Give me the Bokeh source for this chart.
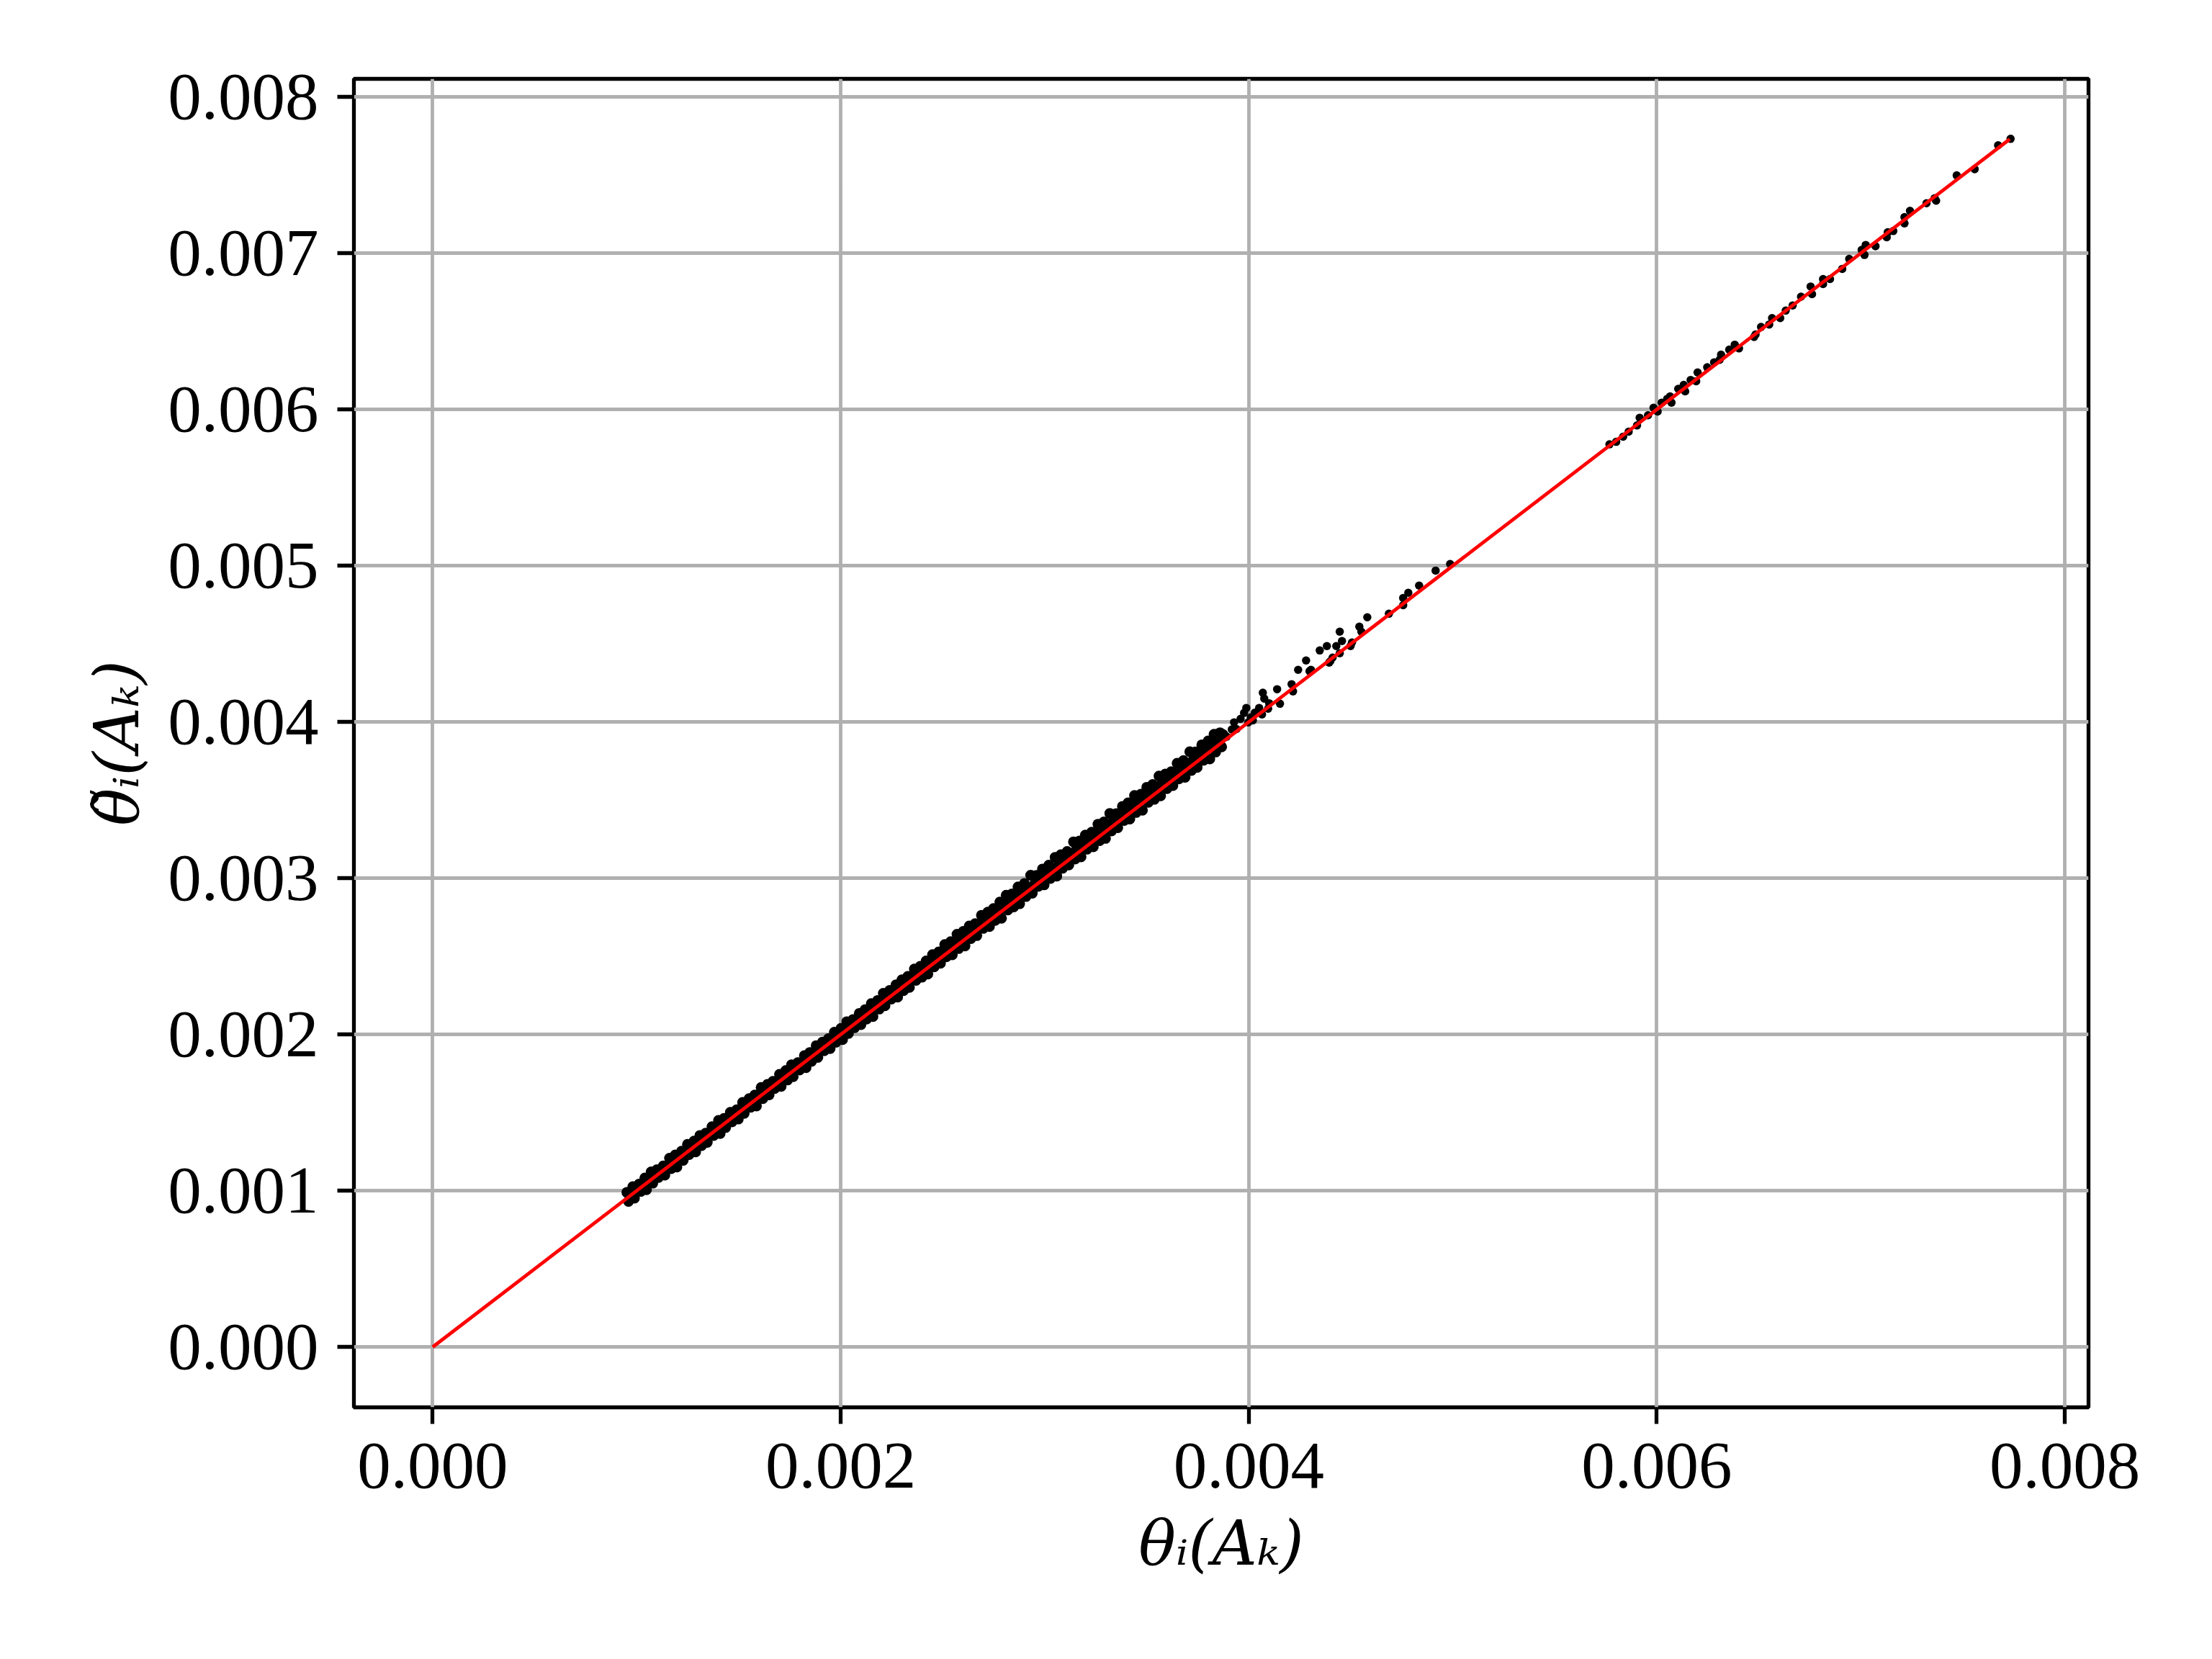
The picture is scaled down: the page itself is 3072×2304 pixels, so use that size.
from bokeh.plotting import figure
from bokeh.models import FixedTicker, PrintfTickFormatter, Range1d
from bokeh.embed import file_html
from bokeh.resources import INLINE

# ---- data ----
x_ticks = [0.000, 0.002, 0.004, 0.006, 0.008]
y_ticks = [0.000, 0.001, 0.002, 0.003, 0.004, 0.005, 0.006, 0.007, 0.008]

# dense band, upper edge
upper_x = [952e-6, 981e-6, 1012e-6, 1040e-6, 1071e-6, 1099e-6, 1130e-6, 1161e-6, 1189e-6, 1220e-6,
           1249e-6, 1281e-6, 1310e-6, 1338e-6, 1369e-6, 1401e-6, 1428e-6, 1459e-6, 1490e-6, 1519e-6,
           1551e-6, 1579e-6, 1610e-6, 1641e-6, 1668e-6, 1700e-6, 1731e-6, 1759e-6, 1790e-6, 1822e-6,
           1849e-6, 1880e-6, 1911e-6, 1940e-6, 1969e-6, 2001e-6, 2030e-6, 2060e-6, 2091e-6, 2119e-6,
           2150e-6, 2181e-6, 2209e-6, 2240e-6, 2271e-6, 2300e-6, 2329e-6, 2361e-6, 2390e-6, 2419e-6,
           2450e-6, 2481e-6, 2510e-6, 2539e-6, 2570e-6, 2601e-6, 2630e-6, 2659e-6, 2690e-6, 2721e-6,
           2749e-6, 2780e-6, 2811e-6, 2840e-6, 2869e-6, 2900e-6, 2931e-6, 2960e-6, 2989e-6, 3020e-6,
           3051e-6, 3079e-6, 3110e-6, 3141e-6, 3170e-6, 3199e-6, 3230e-6, 3261e-6, 3290e-6, 3319e-6,
           3350e-6, 3381e-6, 3409e-6, 3440e-6, 3471e-6, 3500e-6, 3529e-6, 3560e-6, 3591e-6, 3620e-6,
           3649e-6, 3680e-6, 3711e-6, 3739e-6, 3770e-6, 3801e-6, 3830e-6, 3859e-6]
upper_y = [990e-6, 1026e-6, 1043e-6, 1082e-6, 1121e-6, 1135e-6, 1159e-6, 1208e-6, 1229e-6, 1253e-6,
           1297e-6, 1318e-6, 1354e-6, 1368e-6, 1410e-6, 1450e-6, 1463e-6, 1502e-6, 1518e-6, 1565e-6,
           1590e-6, 1613e-6, 1661e-6, 1681e-6, 1700e-6, 1745e-6, 1769e-6, 1806e-6, 1820e-6, 1865e-6,
           1885e-6, 1929e-6, 1952e-6, 1973e-6, 2015e-6, 2039e-6, 2082e-6, 2095e-6, 2135e-6, 2159e-6,
           2198e-6, 2218e-6, 2264e-6, 2282e-6, 2318e-6, 2350e-6, 2372e-6, 2419e-6, 2436e-6, 2471e-6,
           2511e-6, 2529e-6, 2576e-6, 2594e-6, 2641e-6, 2660e-6, 2694e-6, 2709e-6, 2763e-6, 2783e-6,
           2806e-6, 2848e-6, 2891e-6, 2900e-6, 2944e-6, 2966e-6, 3019e-6, 3018e-6, 3059e-6, 3084e-6,
           3134e-6, 3151e-6, 3171e-6, 3233e-6, 3238e-6, 3276e-6, 3295e-6, 3346e-6, 3360e-6, 3415e-6,
           3413e-6, 3460e-6, 3483e-6, 3530e-6, 3538e-6, 3582e-6, 3600e-6, 3654e-6, 3667e-6, 3682e-6,
           3736e-6, 3753e-6, 3810e-6, 3808e-6, 3854e-6, 3879e-6, 3921e-6, 3931e-6]

# dense band, middle
mid_x = [967e-6, 996e-6, 1027e-6, 1055e-6, 1086e-6, 1114e-6, 1145e-6, 1176e-6, 1204e-6, 1235e-6,
         1264e-6, 1296e-6, 1325e-6, 1353e-6, 1384e-6, 1416e-6, 1443e-6, 1474e-6, 1505e-6, 1534e-6,
         1566e-6, 1594e-6, 1625e-6, 1656e-6, 1683e-6, 1715e-6, 1746e-6, 1774e-6, 1805e-6, 1837e-6,
         1864e-6, 1895e-6, 1926e-6, 1955e-6, 1984e-6, 2016e-6, 2045e-6, 2075e-6, 2106e-6, 2134e-6,
         2165e-6, 2196e-6, 2224e-6, 2255e-6, 2286e-6, 2315e-6, 2344e-6, 2376e-6, 2405e-6, 2434e-6,
         2465e-6, 2496e-6, 2525e-6, 2554e-6, 2585e-6, 2616e-6, 2645e-6, 2674e-6, 2705e-6, 2736e-6,
         2764e-6, 2795e-6, 2826e-6, 2855e-6, 2884e-6, 2915e-6, 2946e-6, 2975e-6, 3004e-6, 3035e-6,
         3066e-6, 3094e-6, 3125e-6, 3156e-6, 3185e-6, 3214e-6, 3245e-6, 3276e-6, 3305e-6, 3334e-6,
         3365e-6, 3396e-6, 3424e-6, 3455e-6, 3486e-6, 3515e-6, 3544e-6, 3575e-6, 3606e-6, 3635e-6,
         3664e-6, 3695e-6, 3726e-6, 3754e-6, 3785e-6, 3816e-6, 3845e-6, 3874e-6]
mid_y = [972e-6, 993e-6, 1035e-6, 1057e-6, 1080e-6, 1124e-6, 1145e-6, 1182e-6, 1200e-6, 1244e-6,
         1265e-6, 1289e-6, 1332e-6, 1356e-6, 1382e-6, 1427e-6, 1447e-6, 1469e-6, 1513e-6, 1534e-6,
         1572e-6, 1591e-6, 1637e-6, 1658e-6, 1677e-6, 1724e-6, 1750e-6, 1772e-6, 1812e-6, 1838e-6,
         1874e-6, 1891e-6, 1931e-6, 1963e-6, 1983e-6, 2022e-6, 2056e-6, 2077e-6, 2115e-6, 2131e-6,
         2172e-6, 2209e-6, 2228e-6, 2265e-6, 2287e-6, 2329e-6, 2350e-6, 2387e-6, 2408e-6, 2449e-6,
         2473e-6, 2514e-6, 2530e-6, 2568e-6, 2607e-6, 2625e-6, 2662e-6, 2699e-6, 2717e-6, 2756e-6,
         2772e-6, 2811e-6, 2853e-6, 2866e-6, 2903e-6, 2939e-6, 2956e-6, 2996e-6, 3019e-6, 3063e-6,
         3079e-6, 3116e-6, 3142e-6, 3186e-6, 3197e-6, 3239e-6, 3264e-6, 3309e-6, 3319e-6, 3360e-6,
         3386e-6, 3431e-6, 3440e-6, 3484e-6, 3509e-6, 3553e-6, 3562e-6, 3606e-6, 3632e-6, 3675e-6,
         3684e-6, 3729e-6, 3753e-6, 3797e-6, 3807e-6, 3853e-6, 3875e-6, 3919e-6]

# dense band, lower edge
lower_x = [960e-6, 989e-6, 1020e-6, 1048e-6, 1079e-6, 1107e-6, 1138e-6, 1169e-6, 1197e-6, 1228e-6,
           1257e-6, 1289e-6, 1318e-6, 1346e-6, 1377e-6, 1409e-6, 1436e-6, 1467e-6, 1498e-6, 1527e-6,
           1559e-6, 1587e-6, 1618e-6, 1649e-6, 1676e-6, 1708e-6, 1739e-6, 1767e-6, 1798e-6, 1830e-6,
           1857e-6, 1888e-6, 1919e-6, 1948e-6, 1977e-6, 2009e-6, 2038e-6, 2068e-6, 2099e-6, 2127e-6,
           2158e-6, 2189e-6, 2217e-6, 2248e-6, 2279e-6, 2308e-6, 2337e-6, 2369e-6, 2398e-6, 2427e-6,
           2458e-6, 2489e-6, 2518e-6, 2547e-6, 2578e-6, 2609e-6, 2638e-6, 2667e-6, 2698e-6, 2729e-6,
           2757e-6, 2788e-6, 2819e-6, 2848e-6, 2877e-6, 2908e-6, 2939e-6, 2968e-6, 2997e-6, 3028e-6,
           3059e-6, 3087e-6, 3118e-6, 3149e-6, 3178e-6, 3207e-6, 3238e-6, 3269e-6, 3298e-6, 3327e-6,
           3358e-6, 3389e-6, 3417e-6, 3448e-6, 3479e-6, 3508e-6, 3537e-6, 3568e-6, 3599e-6, 3628e-6,
           3657e-6, 3688e-6, 3719e-6, 3747e-6, 3778e-6, 3809e-6, 3838e-6, 3867e-6]
lower_y = [932e-6, 953e-6, 996e-6, 1007e-6, 1049e-6, 1085e-6, 1100e-6, 1142e-6, 1152e-6, 1195e-6,
           1232e-6, 1249e-6, 1289e-6, 1310e-6, 1354e-6, 1366e-6, 1405e-6, 1441e-6, 1459e-6, 1495e-6,
           1535e-6, 1543e-6, 1590e-6, 1614e-6, 1654e-6, 1668e-6, 1709e-6, 1730e-6, 1773e-6, 1788e-6,
           1828e-6, 1854e-6, 1896e-6, 1910e-6, 1950e-6, 1968e-6, 2007e-6, 2044e-6, 2063e-6, 2099e-6,
           2115e-6, 2163e-6, 2184e-6, 2227e-6, 2240e-6, 2281e-6, 2302e-6, 2347e-6, 2367e-6, 2387e-6,
           2433e-6, 2456e-6, 2498e-6, 2510e-6, 2550e-6, 2567e-6, 2614e-6, 2633e-6, 2679e-6, 2691e-6,
           2730e-6, 2744e-6, 2797e-6, 2817e-6, 2837e-6, 2883e-6, 2904e-6, 2948e-6, 2958e-6, 2999e-6,
           3014e-6, 3064e-6, 3085e-6, 3123e-6, 3137e-6, 3186e-6, 3202e-6, 3241e-6, 3255e-6, 3303e-6,
           3324e-6, 3370e-6, 3379e-6, 3421e-6, 3435e-6, 3486e-6, 3505e-6, 3528e-6, 3574e-6, 3593e-6,
           3636e-6, 3646e-6, 3690e-6, 3710e-6, 3755e-6, 3764e-6, 3808e-6, 3841e-6]

# sparse points between 0.0039 and 0.0050
sparse_x = [3860e-6, 3892e-6, 3917e-6, 3928e-6, 3940e-6, 3960e-6, 3977e-6, 3988e-6, 3998e-6, 4010e-6,
            4020e-6, 4030e-6, 4051e-6, 4065e-6, 4069e-6, 4076e-6, 4095e-6, 4100e-6, 4139e-6, 4153e-6,
            4210e-6, 4217e-6, 4242e-6, 4281e-6, 4298e-6, 4305e-6, 4348e-6, 4383e-6, 4394e-6, 4400e-6,
            4411e-6, 4429e-6, 4446e-6, 4446e-6, 4457e-6, 4499e-6, 4506e-6, 4542e-6, 4552e-6, 4581e-6,
            4687e-6, 4757e-6, 4757e-6, 4782e-6, 4835e-6, 4916e-6, 4987e-6]
sparse_y = [3880e-6, 3906e-6, 3952e-6, 3998e-6, 3955e-6, 4020e-6, 4058e-6, 4090e-6, 3998e-6, 4030e-6,
            4010e-6, 4060e-6, 4090e-6, 4048e-6, 4187e-6, 4150e-6, 4085e-6, 4120e-6, 4210e-6, 4117e-6,
            4242e-6, 4196e-6, 4334e-6, 4394e-6, 4325e-6, 4334e-6, 4458e-6, 4486e-6, 4380e-6, 4389e-6,
            4412e-6, 4486e-6, 4578e-6, 4440e-6, 4518e-6, 4486e-6, 4509e-6, 4610e-6, 4578e-6, 4670e-6,
            4693e-6, 4794e-6, 4748e-6, 4827e-6, 4873e-6, 4969e-6, 5011e-6]

# points between 0.0058 and 0.0077
high_x = [7734e-6, 7673e-6, 7558e-6, 7470e-6, 7362e-6, 7322e-6, 7369e-6, 7241e-6, 7214e-6, 7214e-6,
          7159e-6, 7132e-6, 7127e-6, 7072e-6, 7024e-6, 7004e-6, 7018e-6, 6943e-6, 6909e-6, 6849e-6,
          6815e-6, 6815e-6, 6754e-6, 6761e-6, 6707e-6, 6666e-6, 6632e-6, 6605e-6, 6565e-6, 6551e-6,
          6511e-6, 6484e-6, 6477e-6, 6403e-6, 6382e-6, 6355e-6, 6315e-6, 6308e-6, 6281e-6, 6247e-6,
          6200e-6, 6193e-6, 6166e-6, 6132e-6, 6139e-6, 6105e-6, 6065e-6, 6051e-6, 6072e-6, 6024e-6,
          5984e-6, 6004e-6, 5957e-6, 5916e-6, 5903e-6, 5862e-6, 5835e-6, 5801e-6, 5768e-6]
high_y = [7732e-6, 7691e-6, 7538e-6, 7498e-6, 7352e-6, 7320e-6, 7336e-6, 7271e-6, 7231e-6, 7191e-6,
          7142e-6, 7134e-6, 7102e-6, 7045e-6, 7053e-6, 7021e-6, 6989e-6, 6964e-6, 6900e-6, 6835e-6,
          6835e-6, 6803e-6, 6787e-6, 6738e-6, 6722e-6, 6666e-6, 6633e-6, 6585e-6, 6585e-6, 6544e-6,
          6528e-6, 6480e-6, 6464e-6, 6391e-6, 6415e-6, 6383e-6, 6351e-6, 6318e-6, 6302e-6, 6270e-6,
          6237e-6, 6181e-6, 6189e-6, 6157e-6, 6116e-6, 6132e-6, 6084e-6, 6068e-6, 6044e-6, 6044e-6,
          6011e-6, 5987e-6, 5963e-6, 5947e-6, 5898e-6, 5858e-6, 5826e-6, 5793e-6, 5777e-6]

# identity reference line
ref_x = [0.0, 0.00773]
ref_y = [0.0, 0.00773]

band_x = upper_x + mid_x + lower_x
band_y = upper_y + mid_y + lower_y
loose_x = sparse_x + high_x
loose_y = sparse_y + high_y

# ---- figure ----
FONT = "Liberation Serif"
LABEL_FONT = "DejaVu Serif"
p = figure(width=3056, height=2288, output_backend="svg", toolbar_location=None,
           x_range=Range1d(-0.000386, 0.008116), y_range=Range1d(-0.000386, 0.008116),
           min_border_left=491, min_border_right=156, min_border_top=109, min_border_bottom=334)
p.background_fill_color = "white"
p.border_fill_color = "white"
p.outline_line_color = "black"
p.outline_line_width = 5.3

p.scatter(band_x, band_y, size=15, fill_color="black", line_color=None)
p.scatter(loose_x, loose_y, size=11.5, fill_color="black", line_color=None)
p.line(ref_x, ref_y, line_color="red", line_width=4.8)

p.xaxis.ticker = FixedTicker(ticks=x_ticks)
p.yaxis.ticker = FixedTicker(ticks=y_ticks)
for ax in (p.xaxis, p.yaxis):
    ax.formatter = PrintfTickFormatter(format="%.3f")
    ax.axis_line_color = None
    ax.major_tick_in = 0
    ax.major_tick_out = 23
    ax.major_tick_line_width = 5.3
    ax.major_tick_line_color = "black"
    ax.minor_tick_in = 0
    ax.minor_tick_out = 0
    ax.major_label_text_font = FONT
    ax.major_label_text_font_size = "93px"
    ax.major_label_text_color = "black"
    ax.axis_label_text_font = LABEL_FONT
    ax.axis_label_text_font_size = "86px"
    ax.axis_label_text_font_style = "italic"
    ax.axis_label_text_color = "black"

p.xaxis.major_label_standoff = 27
p.yaxis.major_label_standoff = 26
p.xaxis.axis_label = "θᵢ(Aₖ)"
p.yaxis.axis_label = "θ̃ᵢ(Aₖ)"
p.xaxis.axis_label_standoff = 24
p.yaxis.axis_label_standoff = 18

for g in (p.xgrid, p.ygrid):
    g.grid_line_color = "#b0b0b0"
    g.grid_line_width = 4.8

open("out.html", "w").write(file_html(p, INLINE))
